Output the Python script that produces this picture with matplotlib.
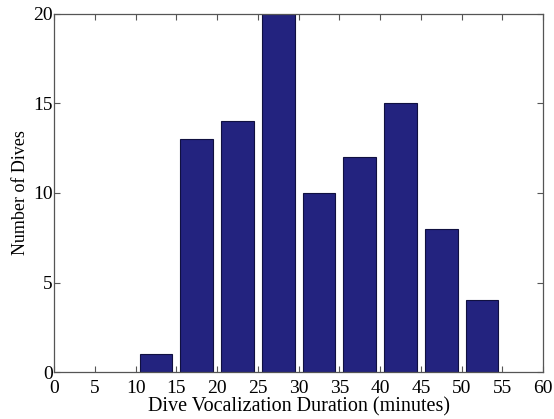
import numpy as np
import matplotlib.pyplot as plt

# bin centres (minutes) and counts
bin_centers = [12.5, 17.5, 22.5, 27.5, 32.5, 37.5, 42.5, 47.5, 52.5]
dive_counts = [1, 13, 14, 20, 10, 12, 15, 8, 4]
x_ticks = list(range(0, 65, 5))
y_ticks = [0, 5, 10, 15, 20]

plt.rcParams['font.family'] = ['Liberation Serif', 'DejaVu Serif']

fig = plt.figure(figsize=(5.54, 4.19), dpi=100)
ax = fig.add_axes([0.0975, 0.112, 0.883, 0.855])

ax.bar(bin_centers, dive_counts, width=4.0, color='#23237f',
       edgecolor='#101040', linewidth=0.8)

ax.set_xlim(0, 60)
ax.set_ylim(0, 20)
ax.set_xticks(x_ticks)
ax.set_yticks(y_ticks)
ax.tick_params(direction='in', top=True, right=True, labelsize=14,
               length=4, color='#555555')
ax.tick_params(axis='x', pad=6)
ax.tick_params(axis='y', pad=1)
for s in ax.spines.values():
    s.set_color('#555555')
    s.set_linewidth(0.9)

ax.set_xlabel("Dive Vocalization Duration (minutes)", fontsize=14.5, labelpad=0)
ax.set_ylabel("Number of Dives", fontsize=13, labelpad=3)

fig.savefig("out.png", dpi=100)
